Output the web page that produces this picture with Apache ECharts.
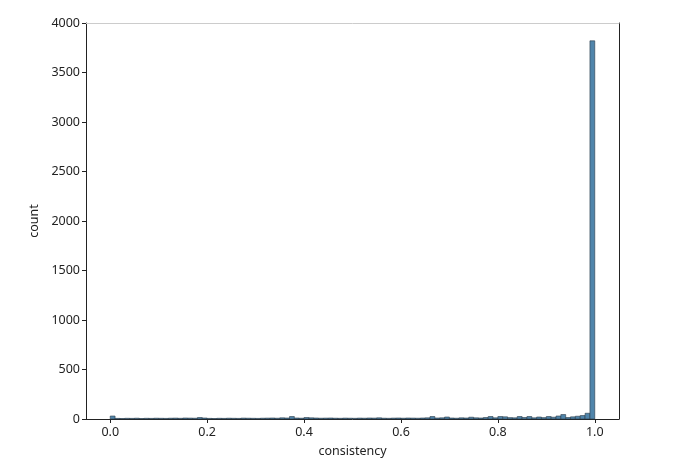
<!DOCTYPE html>
<html>
<head>
<meta charset="utf-8">
<script src="https://cdn.jsdelivr.net/npm/echarts@6/dist/echarts.min.js"></script>
<style>html,body{margin:0;padding:0;background:#fff}#c{width:683px;height:473px}</style>
</head>
<body>
<div id="c"></div>
<script>
// histogram of "consistency": 100 bins of width 0.01 from 0 to 1
const binWidth = 0.01;
const counts = [
  30, 6, 5, 7, 6, 8, 5, 7, 6, 8,
  7, 6, 8, 9, 7, 10, 9, 8, 15, 10,
  6, 5, 7, 6, 8, 7, 6, 9, 8, 7,
  6, 8, 9, 10, 8, 12, 10, 25, 10, 8,
  15, 12, 10, 8, 9, 10, 8, 7, 9, 8,
  7, 9, 8, 10, 9, 12, 8, 7, 9, 10,
  8, 10, 9, 8, 10, 12, 25, 10, 12, 20,
  10, 8, 12, 10, 18, 12, 10, 15, 25, 12,
  25, 22, 14, 12, 25, 15, 25, 12, 20, 14,
  25, 18, 30, 45, 15, 22, 28, 35, 58, 3820
];
const xTicks = [0, 0.2, 0.4, 0.6, 0.8, 1.0];
const yTicks = [0, 500, 1000, 1500, 2000, 2500, 3000, 3500, 4000];

const data = counts.map((c, i) => [i * binWidth, (i + 1) * binWidth, c]);
const font = 'Noto Sans';
const chart = echarts.init(document.getElementById('c'), null, {renderer: 'canvas'});
chart.setOption({
  animation: false,
  textStyle: {fontFamily: font},
  grid: {left: 86, right: 64, top: 23, bottom: 54},
  xAxis: [{
    type: 'value', min: -0.05, max: 1.05,
    name: 'consistency', nameLocation: 'middle', nameGap: 26,
    nameTextStyle: {fontSize: 12.5, color: '#222', fontFamily: font},
    axisLine: {show: true, onZero: false, lineStyle: {color: '#222', width: 1}},
    axisTick: {show: true, length: 4, customValues: xTicks, lineStyle: {color: '#222'}},
    axisLabel: {customValues: xTicks, color: '#222', fontSize: 12.5, margin: 7,
      formatter: v => v.toFixed(1)},
    splitLine: {show: false}
  }, {
    type: 'value', min: -0.05, max: 1.05, position: 'top',
    axisLine: {show: true, onZero: false, lineStyle: {color: '#cccccc', width: 1}},
    axisTick: {show: false}, axisLabel: {show: false}, splitLine: {show: false}
  }],
  yAxis: [{
    type: 'value', min: 0, max: 4000,
    name: 'count', nameLocation: 'middle', nameGap: 42,
    nameTextStyle: {fontSize: 12.5, color: '#222', fontFamily: font},
    axisLine: {show: true, onZero: false, lineStyle: {color: '#222', width: 1}},
    axisTick: {show: true, length: 4, customValues: yTicks, lineStyle: {color: '#222'}},
    axisLabel: {customValues: yTicks, color: '#222', fontSize: 12.5, margin: 6,
      formatter: v => String(v)},
    splitLine: {show: false}
  }, {
    type: 'value', min: 0, max: 4000, position: 'right',
    axisLine: {show: true, onZero: false, lineStyle: {color: '#222', width: 1}},
    axisTick: {show: false}, axisLabel: {show: false}, splitLine: {show: false}
  }],
  series: [{
    type: 'custom',
    data: data,
    encode: {x: [0, 1], y: 2},
    renderItem: function (params, api) {
      const p0 = api.coord([api.value(0), api.value(2)]);
      const p1 = api.coord([api.value(1), 0]);
      return {
        type: 'rect',
        shape: {x: p0[0], y: p0[1], width: p1[0] - p0[0], height: p1[1] - p0[1]},
        style: {fill: '#5085ab', stroke: '#2a3a48', lineWidth: 0.6}
      };
    }
  }]
});
</script>
</body>
</html>
